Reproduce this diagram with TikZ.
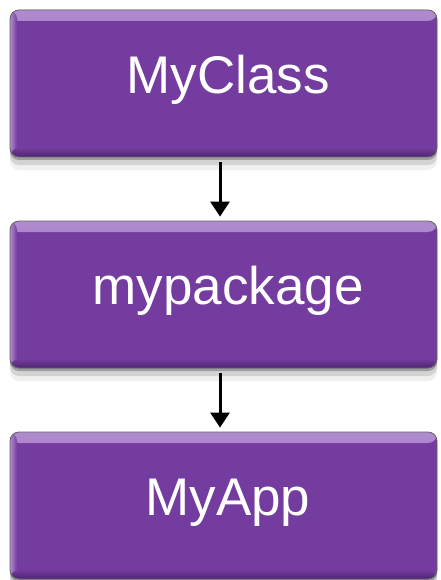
\documentclass[tikz,border=0pt]{standalone}
\usepackage{fontspec}
\setmainfont{Liberation Sans}
\usetikzlibrary{arrows.meta,shadows}

\definecolor{modfill}{HTML}{733C9E}
\definecolor{modhi}{HTML}{B08CCF}
\definecolor{modlo}{HTML}{4E2470}

\begin{document}
\begin{tikzpicture}[x=1pt, y=-1pt, >={Triangle[width=19pt, length=15pt]},
	modbox/.style={draw=black!60, line width=0.8pt, rounded corners=9pt, fill=modfill,
		minimum width=427pt, minimum height=147pt, text=white,
		font=\fontsize{53}{60}\selectfont, text height=40pt, text depth=20pt,
		execute at begin node=\hspace*{9pt},
		drop shadow={shadow xshift=0pt, shadow yshift=-3pt, opacity=.25, fill=black},
		drop shadow={shadow xshift=0pt, shadow yshift=-8pt, opacity=.12, fill=black},
		drop shadow={shadow xshift=0pt, shadow yshift=-13pt, opacity=.06, fill=black},
		path picture={
			\shade[top color=modhi, bottom color=modfill] (path picture bounding box.north west) rectangle ([yshift=-11pt]path picture bounding box.north east);
			\shade[left color=modhi, right color=modfill] (path picture bounding box.north west) rectangle ([xshift=7pt]path picture bounding box.south west);
			\shade[top color=modfill, bottom color=modlo] ([yshift=9pt]path picture bounding box.south west) rectangle (path picture bounding box.south east);
		}},
	flow/.style={->, line width=3pt, shorten <=5pt, shorten >=4pt}]
	\useasboundingbox (0,0) rectangle (440,580);
	\foreach \i/\l in {0/MyClass, 1/mypackage, 2/MyApp} {
		\node[modbox] (m\i) at (223.5, 83.5+211*\i) {\l};
	}
	\foreach \i/\j in {0/1, 1/2} {
		\draw[flow] ([xshift=-3.5pt]m\i.south) -- ([xshift=-3.5pt]m\j.north);
	}
\end{tikzpicture}
\end{document}
